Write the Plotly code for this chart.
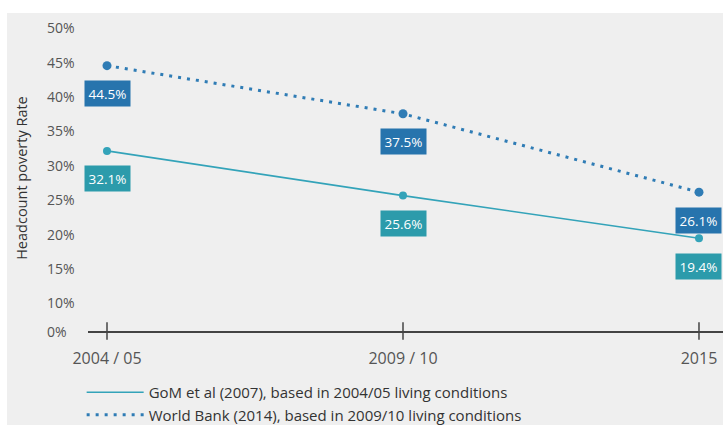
import plotly.graph_objects as go

# Survey periods and headcount poverty estimates (%)
periods = ["2004 / 05", "2009 / 10", "2015"]
gom_rates = [32.1, 25.6, 19.4]
wb_rates = [44.5, 37.5, 26.1]

gom_name = "GoM et al (2007), based in 2004/05 living conditions"
wb_name = "World Bank (2014), based in 2009/10 living conditions"

# Y axis is broken between 0% and 10%: "0%" sits on the baseline
y_tick_vals = [5.9, 10, 15, 20, 25, 30, 35, 40, 45, 50]
y_tick_text = ["0%", "10%", "15%", "20%", "25%", "30%", "35%", "40%", "45%", "50%"]

teal_line = "#33a3b9"
teal_box = "#2c9bab"
blue_line = "#2f7cb5"
blue_box = "#2774ad"
axis_col = "#444444"
text_col = "#555555"
FONT = "Open Sans"

# category positions on the x axis ("2015" would otherwise be read as a number)
pos = list(range(len(periods)))

fig = go.Figure()

fig.add_trace(go.Scatter(
    x=periods, y=gom_rates, name=gom_name, mode="lines+markers",
    line=dict(color=teal_line, width=1.6),
    marker=dict(color=teal_line, size=8),
    showlegend=False, cliponaxis=False,
))
fig.add_trace(go.Scatter(
    x=periods, y=wb_rates, name=wb_name, mode="lines+markers",
    line=dict(color=blue_line, width=3, dash="3px,6px"),
    marker=dict(color=blue_line, size=9),
    showlegend=False, cliponaxis=False,
))

# legend-only entries (line samples without markers)
fig.add_trace(go.Scatter(
    x=[None], y=[None], name=gom_name, mode="lines",
    line=dict(color=teal_line, width=1.6),
))
fig.add_trace(go.Scatter(
    x=[None], y=[None], name=wb_name, mode="lines",
    line=dict(color=blue_line, width=3, dash="3px,6px"),
))

annotations = []
# value boxes under each point
for vals, box in ((gom_rates, teal_box), (wb_rates, blue_box)):
    for i, v in zip(pos, vals):
        annotations.append(dict(
            x=i, y=v, xref="x", yref="y", text=f"{v}%", showarrow=False,
            yshift=-28, bgcolor=box, borderpad=3.5,
            font=dict(family=FONT, size=13.5, color="white"),
        ))

# left-aligned y tick labels
for tv, tt in zip(y_tick_vals, y_tick_text):
    annotations.append(dict(
        x=-0.0677, y=tv, xref="paper", yref="y", text=tt, showarrow=False,
        xanchor="left", yanchor="middle",
        font=dict(family=FONT, size=14, color=text_col),
    ))

# y axis title
annotations.append(dict(
    x=-0.104, y=0.494, xref="paper", yref="paper",
    text="Headcount poverty Rate", showarrow=False, textangle=-90,
    xanchor="center", yanchor="middle",
    font=dict(family=FONT, size=14.5, color="#333333"),
))

shapes = [
    # grey panel behind the chart
    dict(type="rect", xref="paper", yref="paper", x0=-0.1276, x1=1.02,
         y0=-0.31, y1=1.0258, fillcolor="#efefef", line=dict(width=0),
         layer="below"),
]
# tick marks crossing the baseline
for i in pos:
    shapes.append(dict(
        type="line", xref="x", yref="paper", x0=i, x1=i, y0=-0.028, y1=0.028,
        line=dict(color=axis_col, width=1.5),
    ))

fig.update_layout(
    width=723, height=425,
    margin=dict(l=88, r=0, t=21, b=94, autoexpand=False),
    paper_bgcolor="white", plot_bgcolor="rgba(0,0,0,0)",
    font=dict(family=FONT, color=text_col),
    xaxis=dict(
        type="category", range=[-0.0642, 2.0811],
        showgrid=False, zeroline=False, showline=True,
        linecolor=axis_col, linewidth=1.5, ticks="",
        ticklabelstandoff=12,
        tickfont=dict(family=FONT, size=16, color=text_col),
    ),
    yaxis=dict(
        range=[5.9, 51.0], showgrid=False, zeroline=False, showline=False,
        showticklabels=False, ticks="",
    ),
    legend=dict(
        x=-0.01, y=-0.145, xanchor="left", yanchor="top",
        bgcolor="rgba(0,0,0,0)", tracegroupgap=0, itemwidth=57,
        font=dict(family=FONT, size=15, color="#333333"),
    ),
    annotations=annotations,
    shapes=shapes,
)

fig.write_html("out.html")
